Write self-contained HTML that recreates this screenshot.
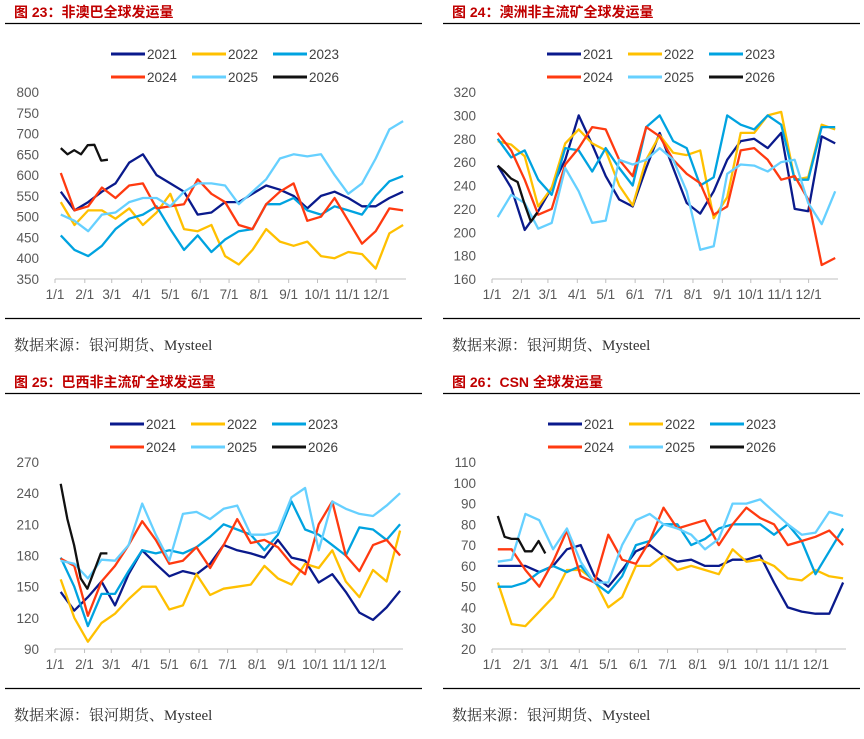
<!DOCTYPE html>
<html><head><meta charset="utf-8"><style>
body{margin:0;background:#fff;width:864px;height:734px;overflow:hidden}
svg text{font-family:"Liberation Sans","Noto Sans CJK SC",sans-serif}
</style></head><body>
<svg id="s" width="864" height="734" xmlns="http://www.w3.org/2000/svg"></svg>
<script>
const months=["1/1","2/1","3/1","4/1","5/1","6/1","7/1","8/1","9/1","10/1","11/1","12/1"];
const years=["2021","2022","2023","2024","2025","2026"];
// Chart 23
const c1_2021=[560,515,535,560,580,630,650,600,580,560,505,510,535,535,555,575,565,550,520,550,560,545,525,525,545,560];
const c1_2022=[535,480,515,515,495,520,480,510,555,470,465,480,405,385,420,470,440,430,440,405,400,415,410,375,460,480];
const c1_2023=[455,420,405,430,470,495,505,525,470,420,455,415,445,465,470,530,530,545,515,505,525,515,505,550,585,598];
const c1_2024=[605,515,525,570,545,575,580,520,525,530,590,555,535,480,470,530,560,580,490,500,545,490,435,465,520,515];
const c1_2025=[505,490,465,505,510,535,545,545,525,560,580,580,575,530,560,590,640,650,645,650,600,555,580,640,710,730];
const c1_2026=[665,650,660,650,672,673,635,637];
const c1_ticks=[350,400,450,500,550,600,650,700,750,800];
// Chart 24
const c2_2021=[257,238,202,218,238,262,300,275,248,228,222,255,285,255,225,216,235,262,278,280,272,285,220,218,282,276];
const c2_2022=[278,275,265,222,238,276,288,276,270,240,223,262,283,268,266,270,212,230,285,285,300,303,245,247,292,288];
const c2_2023=[280,264,270,245,232,272,270,252,272,255,240,290,300,278,272,240,247,300,292,288,300,292,245,245,290,290];
const c2_2024=[285,270,245,215,220,258,272,290,288,262,248,290,282,262,250,242,215,222,270,272,262,245,248,228,172,178];
const c2_2025=[213,232,225,203,208,255,235,208,210,262,258,262,272,262,235,185,188,250,258,257,252,260,262,225,207,235];
const c2_2026=[257,252,246,243,225,209,217];
const c2_ticks=[160,180,200,220,240,260,280,300,320];
// Chart 25
const c3_2021=[145,127,140,155,132,162,185,172,160,165,162,172,190,185,182,178,195,178,175,154,162,145,125,118,130,146];
const c3_2022=[157,120,97,115,124,138,150,150,128,132,162,142,148,150,152,170,158,152,172,168,185,155,140,166,155,204];
const c3_2023=[178,150,112,143,143,165,185,182,185,182,188,198,210,205,200,185,200,232,205,200,190,180,207,205,195,210];
const c3_2024=[177,170,122,155,170,190,213,195,172,175,188,168,190,215,192,195,188,172,162,210,232,180,165,190,195,180];
const c3_2025=[175,172,158,176,175,190,230,200,175,220,222,215,225,228,200,200,203,236,245,185,232,225,220,218,228,240];
const c3_2026=[249,215,190,158,148,165,182,182];
const c3_ticks=[90,120,150,180,210,240,270];
// Chart 26
const c4_2021=[60,60,60,57,60,68,70,55,50,58,67,70,65,62,63,60,60,63,63,65,52,40,38,37,37,52];
const c4_2022=[52,32,31,38,45,58,58,53,40,45,60,60,65,58,60,58,56,68,62,63,60,54,53,58,55,54];
const c4_2023=[50,50,52,57,60,57,60,52,47,55,70,72,80,80,70,73,78,80,80,80,75,80,72,56,67,78];
const c4_2024=[68,68,58,50,62,77,55,52,75,63,61,72,88,78,80,82,70,80,88,83,80,70,72,74,77,70];
const c4_2025=[62,63,85,82,68,78,62,52,52,70,82,85,80,78,75,68,73,90,90,92,86,80,75,76,86,84];
const c4_2026=[84,74,73,73,67,67,72,66];
const c4_ticks=[20,30,40,50,60,70,80,90,100,110];

const colors=["#0A1A8C","#FFC000","#00A3E0","#FF3A10","#66D0FF","#111111"];
const svg=document.getElementById('s');
const NS="http://www.w3.org/2000/svg";
function mk(tag,attrs,parent){const e=document.createElementNS(NS,tag);for(const k in attrs)e.setAttribute(k,attrs[k]);(parent||svg).appendChild(e);return e;}

const charts=[
 {title:"图 23：非澳巴全球发运量",ox:0,oy:0,xs:55,xe:406,lx:39,ticks:c1_ticks,data:[c1_2021,c1_2022,c1_2023,c1_2024,c1_2025,c1_2026],legX:111,tx:14,rl:5,rr:422},
 {title:"图 24：澳洲非主流矿全球发运量",ox:432,oy:0,xs:60,xe:406,lx:44,ticks:c2_ticks,data:[c2_2021,c2_2022,c2_2023,c2_2024,c2_2025,c2_2026],legX:115,tx:20,rl:11,rr:428},
 {title:"图 25：巴西非主流矿全球发运量",ox:0,oy:370,xs:55,xe:403,lx:39,ticks:c3_ticks,data:[c3_2021,c3_2022,c3_2023,c3_2024,c3_2025,c3_2026],legX:110,tx:14,rl:5,rr:422},
 {title:"图 26：CSN 全球发运量",ox:432,oy:370,xs:60,xe:414,lx:44,ticks:c4_ticks,data:[c4_2021,c4_2022,c4_2023,c4_2024,c4_2025,c4_2026],legX:116,tx:20,rl:11,rr:428}
];
charts.forEach((c,ci)=>{
 const g=mk('g',{transform:`translate(${c.ox},${c.oy})`});
 
 
 const t=mk('text',{x:c.tx,y:17,'font-size':14,'font-weight':'bold',fill:'#C00000'},g);t.textContent=c.title;
 
 
 const r1=mk('line',{x1:c.rl,x2:c.rr,y1:23.5,y2:23.5,stroke:'#000','stroke-width':1.2},g);
 
 
 const r2=mk('line',{x1:c.rl,x2:c.rr,y1:318.5,y2:318.5,stroke:'#000','stroke-width':1.2},g);
 
 
 const src=mk('text',{x:c.tx,y:350,'font-size':15,fill:'#333',style:'font-family:"Liberation Serif","Noto Serif CJK SC",serif'},g);src.textContent="数据来源：银河期货、Mysteel";
 
 
 years.forEach((yr,i)=>{
  const lx=c.legX+(i%3)*81, ly=i<3?54:77;
  const lg=mk('g',{},g);
  
  
  mk('line',{x1:lx,x2:lx+34,y1:ly,y2:ly,stroke:colors[i],'stroke-width':3},lg);
  const tt=mk('text',{x:lx+36,y:ly+5,'font-size':13.5,fill:'#404040'},lg);tt.textContent=yr;
 });
 const yTop=92,yBot=279;
 const tmin=c.ticks[0],tmax=c.ticks[c.ticks.length-1];
 const ys=v=>yBot-(v-tmin)/(tmax-tmin)*(yBot-yTop);
 const xd=d=>c.xs+d/365*(c.xe-c.xs);
 c.ticks.forEach(v=>{
  const tl=mk('text',{x:c.lx,y:ys(v)+5,'font-size':13.5,fill:'#595959','text-anchor':'end'},g);tl.textContent=v;
  
  
 });
 const ax=mk('line',{x1:c.xs,x2:c.xe,y1:yBot,y2:yBot,stroke:'#BFBFBF','stroke-width':1},g);
 
 
 const mdays=[0,31,59,90,120,151,181,212,243,273,304,334];
 months.forEach((m,i)=>{
  const x=xd(mdays[i]);
  mk('line',{x1:x,x2:x,y1:yBot,y2:yBot+4,stroke:'#BFBFBF'},g);
  const tl=mk('text',{x:x,y:yBot+20,'font-size':13.5,fill:'#595959','text-anchor':'middle'},g);tl.textContent=m;
  
  
 });
 c.data.forEach((arr,si)=>{
  const n=arr.length;
  const pts=arr.map((v,i)=>{const d= si===5 ? 6+7*i : 6+i*(356/(n-1));return xd(d).toFixed(1)+','+ys(v).toFixed(1);}).join(' ');
  const pl=mk('polyline',{points:pts,fill:'none',stroke:colors[si],'stroke-width':2.3,'stroke-linejoin':'round'},g);
  
  
 });
});
</script>
</body></html>
